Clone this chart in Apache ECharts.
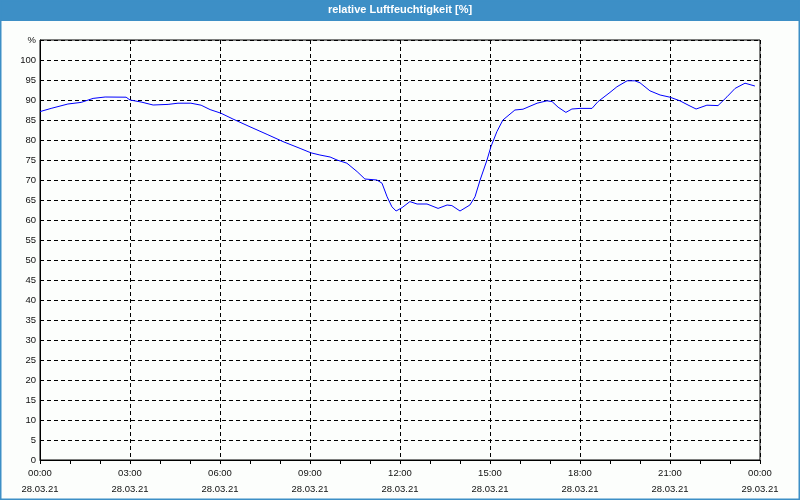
<!DOCTYPE html>
<html>
<head>
<meta charset="utf-8">
<script src="https://cdn.jsdelivr.net/npm/echarts@6/dist/echarts.min.js"></script>
<style>
html,body{margin:0;padding:0;background:#fff;}
#chart{width:800px;height:500px;}
</style>
</head>
<body>
<div id="chart"></div>
<script>
var titleText = 'relative Luftfeuchtigkeit [%]';
var hours = [0.00,0.37,0.93,1.37,1.77,2.17,2.87,3.00,3.37,3.77,4.27,4.60,5.03,5.37,5.67,6.03,6.43,7.00,7.57,8.10,8.67,9.03,9.33,9.67,9.90,10.23,10.57,10.83,11.23,11.40,11.57,11.73,11.87,12.07,12.33,12.57,12.90,13.27,13.57,13.73,14.00,14.33,14.50,14.67,14.90,15.03,15.23,15.43,15.83,16.10,16.57,16.90,17.07,17.27,17.53,17.73,18.00,18.40,18.60,19.00,19.23,19.57,19.83,20.00,20.33,20.67,21.00,21.33,21.60,21.87,22.23,22.60,22.90,23.17,23.50,23.83];
var humidity = [87.1,87.9,89.0,89.4,90.4,90.75,90.7,90.0,89.5,88.75,88.9,89.2,89.2,88.7,87.6,86.7,85.25,83.3,81.4,79.6,77.9,76.8,76.25,75.75,75.0,74.2,72.1,70.25,70.0,69.2,65.8,63.3,62.25,63.1,64.6,64.0,64.0,62.9,63.75,63.6,62.25,63.75,65.8,70.0,75.0,78.3,82.1,85.0,87.5,87.7,89.2,89.8,89.6,88.2,86.9,87.75,87.9,87.9,89.6,91.9,93.3,94.8,94.8,94.3,92.3,91.25,90.7,89.8,88.75,87.75,88.7,88.6,90.8,92.9,94.2,93.5];
var dateLabels = {0:'28.03.21',24:'29.03.21'};
var yUnit = '%';

var data = hours.map(function(h,i){return [h, humidity[i]];});
var chart = echarts.init(document.getElementById('chart'), null, {renderer:'canvas'});
var font = '"Liberation Sans", Arial, sans-serif';
chart.setOption({
  animation:false,
  backgroundColor:'#fcfefc',
  graphic:[
    {type:'rect', shape:{x:0,y:0,width:800,height:21}, style:{fill:'#3d8fc6'}, z:10},
    {type:'rect', shape:{x:0.5,y:0.5,width:799,height:499}, style:{fill:null, stroke:'#3d8fc6', lineWidth:2}, z:10},
    {type:'text', left:'center', top:4, style:{text:titleText, fill:'#fff', font:'bold 11px '+font}, z:11}
  ],
  grid:{left:40,right:40,top:40,bottom:40,show:true,borderColor:'#000',borderWidth:1,backgroundColor:'transparent'},
  xAxis:{
    type:'value', min:0, max:24, interval:3,
    axisLine:{lineStyle:{color:'#000',width:1}},
    axisTick:{show:true, length:4, lineStyle:{color:'#000'}},
    minorTick:{show:true, splitNumber:3, length:4, lineStyle:{color:'#000'}},
    splitLine:{show:true, lineStyle:{color:'#000', type:[4,3], width:1}},
    axisLabel:{color:'#111', fontSize:9.5, fontFamily:font, margin:5, lineHeight:16,
      formatter:function(v){
        var h = v % 24; var d = v>=24 ? dateLabels[24] : dateLabels[0];
        return (h<10?'0':'')+h+':00\n'+d;
      }}
  },
  yAxis:{
    type:'value', min:0, max:105, interval:5,
    axisLine:{show:true, lineStyle:{color:'#000',width:1}},
    axisTick:{show:false},
    splitLine:{show:true, lineStyle:{color:'#000', type:[4,3], width:1}},
    axisLabel:{color:'#111', fontSize:9.5, fontFamily:font, margin:4,
      formatter:function(v){ return v>100 ? yUnit : String(v); }}
  },
  series:[{
    type:'line', data:data, showSymbol:false, smooth:false,
    lineStyle:{color:'#0000ff', width:1}, z:5
  }]
});
</script>
</body>
</html>
